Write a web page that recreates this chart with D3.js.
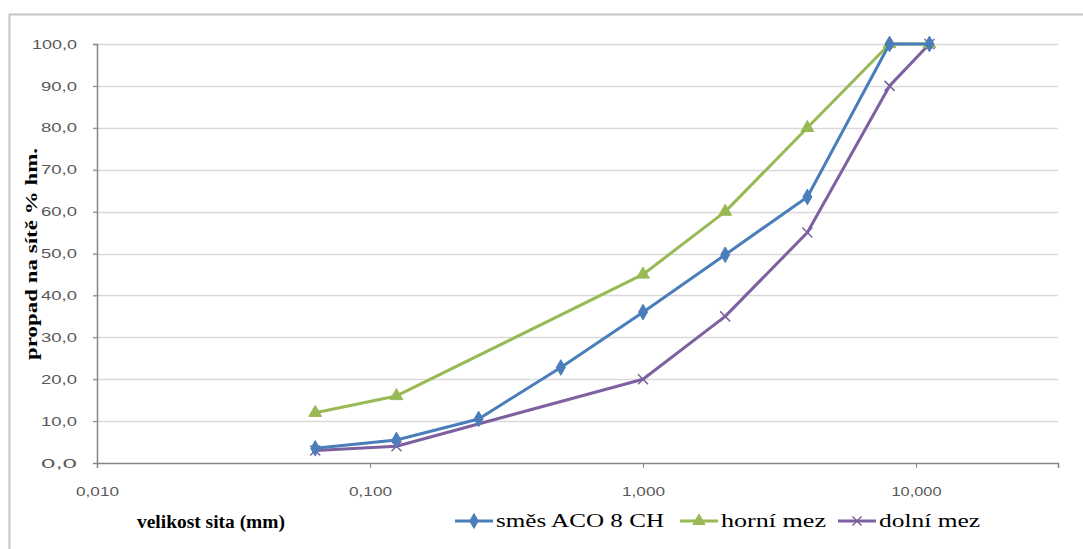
<!DOCTYPE html>
<html>
<head>
<meta charset="utf-8">
<script src="https://cdnjs.cloudflare.com/ajax/libs/d3/7.8.5/d3.min.js"></script>
<style>
  body { margin: 0; background: #fff; }
</style>
</head>
<body>
<div id="chart"></div>
<script>
// sieve sizes (mm)
var sieves = [0.063, 0.125, 0.25, 0.5, 1, 2, 4, 8, 11.2];
var limitSieves = [0.063, 0.125, 1, 2, 4, 8, 11.2];

// passing through sieve (% by mass)
var mixValues = [3.5, 5.5, 10.5, 22.8, 36.0, 49.7, 63.5, 100, 100];
var upperValues = [12.0, 16.0, 45.0, 60.0, 80.0, 100, 100];
var lowerValues = [3.0, 4.0, 20.0, 35.0, 55.0, 90.0, 100];

var xTicks = [0.01, 0.1, 1, 10];
var yTicks = [0, 10, 20, 30, 40, 50, 60, 70, 80, 90, 100];

var seriesNames = ["směs ACO 8 CH", "horní mez", "dolní mez"];
var xTitle = "velikost sita (mm)";
var yTitle = "propad na sítě % hm.";

var attrs = {
    svgWidth: 1083,
    svgHeight: 549,
    plotLeft: 97,
    plotRight: 1058,
    plotTop: 44,
    plotBottom: 463,
    decadeWidth: 273,
    gridColor: '#d9d9d9',
    axisColor: '#868686',
    tickText: '#595959',
    serif: '"Liberation Serif", "Times New Roman", serif',
    sans: '"Liberation Sans", Arial, sans-serif',
    colors: ['#4a7ebb', '#98b954', '#7d60a0']
};

var series = [
    { name: seriesNames[0], x: sieves, y: mixValues, marker: 'diamond' },
    { name: seriesNames[1], x: limitSieves, y: upperValues, marker: 'triangle' },
    { name: seriesNames[2], x: limitSieves, y: lowerValues, marker: 'cross' }
];

var svg = d3.select('#chart').append('svg')
    .attr('width', attrs.svgWidth)
    .attr('height', attrs.svgHeight);

// chart frame
svg.append('path')
    .attr('d', 'M9.5,' + (attrs.svgHeight + 5) + 'V14.5H' + (attrs.svgWidth + 5))
    .attr('fill', 'none')
    .attr('stroke', '#c4c4c4')
    .attr('stroke-width', 2);

// ---------- scales
// the axis ends where the picture's plot area ends (a bit above 30 mm)
var xMax = Math.pow(10, -2 + (attrs.plotRight - attrs.plotLeft) / attrs.decadeWidth);
var x = d3.scaleLog().domain([0.01, xMax]).range([attrs.plotLeft, attrs.plotRight]);
var y = d3.scaleLinear().domain([0, 100]).range([attrs.plotBottom, attrs.plotTop]);

var fmtY = function (d) { return d3.format('.1f')(d).replace('.', ','); };
var fmtX = function (d) { return d3.format('.3f')(d).replace('.', ','); };

// ---------- gridlines
svg.append('g').selectAll('line')
    .data(yTicks.filter(function (d) { return d > 0; }))
    .enter().append('line')
    .attr('x1', attrs.plotLeft - 4)
    .attr('x2', attrs.plotRight)
    .attr('y1', function (d) { return Math.round(y(d)) + 0.5; })
    .attr('y2', function (d) { return Math.round(y(d)) + 0.5; })
    .attr('stroke', attrs.gridColor)
    .attr('stroke-width', 1.5);

// ---------- y axis
var yAxis = svg.append('g')
    .attr('transform', 'translate(' + attrs.plotLeft + ',0)')
    .call(d3.axisLeft(y).tickValues(yTicks).tickSize(4).tickPadding(16).tickFormat(fmtY));
yAxis.select('.domain').attr('stroke', attrs.axisColor).attr('stroke-width', 1.5);
yAxis.selectAll('.tick line').attr('stroke', attrs.axisColor);
yAxis.selectAll('.tick text')
    .attr('fill', attrs.tickText)
    .attr('font-family', attrs.sans)
    .attr('font-size', 13)
    .attr('textLength', function (d) { return d === 100 ? 45 : 36; })
    .attr('lengthAdjust', 'spacingAndGlyphs');

// ---------- x axis
var xAxis = svg.append('g')
    .attr('transform', 'translate(0,' + attrs.plotBottom + ')')
    .call(d3.axisBottom(x).tickValues(xTicks).tickSize(5).tickPadding(19).tickFormat(fmtX));
xAxis.select('.domain').attr('stroke', attrs.axisColor).attr('stroke-width', 1.5);
xAxis.selectAll('.tick line').attr('stroke', attrs.axisColor);
xAxis.selectAll('.tick text')
    .attr('fill', attrs.tickText)
    .attr('font-family', attrs.sans)
    .attr('font-size', 13)
    .attr('textLength', function (d) { return d >= 10 ? 50 : 43; })
    .attr('lengthAdjust', 'spacingAndGlyphs');

// ---------- axis titles
svg.append('text')
    .attr('transform', 'translate(37,254) rotate(-90)')
    .attr('text-anchor', 'middle')
    .attr('font-family', attrs.serif)
    .attr('font-weight', 'bold')
    .attr('font-size', 17)
    .attr('fill', '#000')
    .attr('textLength', 212)
    .attr('lengthAdjust', 'spacingAndGlyphs')
    .text(yTitle);

svg.append('text')
    .attr('x', 137)
    .attr('y', 528)
    .attr('font-family', attrs.serif)
    .attr('font-weight', 'bold')
    .attr('font-size', 18)
    .attr('fill', '#000')
    .attr('textLength', 148)
    .attr('lengthAdjust', 'spacingAndGlyphs')
    .text(xTitle);

// ---------- markers
function drawMarker(g, type, color, size) {
    if (type === 'diamond') {
        g.append('path')
            .attr('d', d3.symbol().type(d3.symbolDiamond).size(size * 7)())
            .attr('fill', color).attr('stroke', color);
    } else if (type === 'triangle') {
        g.append('path')
            .attr('d', d3.symbol().type(d3.symbolTriangle).size(size * 7)())
            .attr('fill', color).attr('stroke', color);
    } else {
        var r = size * 0.5;
        g.append('path')
            .attr('d', 'M' + (-r) + ',' + (-r) + 'L' + r + ',' + r + 'M' + (-r) + ',' + r + 'L' + r + ',' + (-r))
            .attr('stroke', color).attr('stroke-width', 1.5).attr('fill', 'none');
    }
}

var line = d3.line()
    .x(function (d) { return x(d[0]); })
    .y(function (d) { return y(d[1]); });

// lower bound drawn first so the mix sits on top
series.slice().reverse().forEach(function (s) {
    var i = series.indexOf(s);
    var pts = s.x.map(function (v, j) { return [v, s.y[j]]; });
    var g = svg.append('g').attr('class', 'series-' + i);
    g.append('path')
        .attr('d', line(pts))
        .attr('fill', 'none')
        .attr('stroke', attrs.colors[i])
        .attr('stroke-width', 3)
        .attr('stroke-linejoin', 'round');
    pts.forEach(function (p) {
        var m = g.append('g').attr('transform', 'translate(' + x(p[0]) + ',' + y(p[1]) + ')');
        drawMarker(m, s.marker, attrs.colors[i], 10);
    });
});

// ---------- legend
var legendItems = [
    { x: 455, textLen: 168 },
    { x: 680, textLen: 105 },
    { x: 838, textLen: 101 }
];
series.forEach(function (s, i) {
    var lg = svg.append('g').attr('transform', 'translate(' + legendItems[i].x + ',521)');
    lg.append('line')
        .attr('x1', 0).attr('x2', 38)
        .attr('stroke', attrs.colors[i]).attr('stroke-width', 3);
    var m = lg.append('g').attr('transform', 'translate(19,0)');
    drawMarker(m, s.marker, attrs.colors[i], 9);
    lg.append('text')
        .attr('x', 41)
        .attr('y', 6)
        .attr('font-family', attrs.serif)
        .attr('font-size', 18)
        .attr('fill', '#000')
        .attr('textLength', legendItems[i].textLen)
        .attr('lengthAdjust', 'spacingAndGlyphs')
        .text(s.name);
});
</script>
</body>
</html>
